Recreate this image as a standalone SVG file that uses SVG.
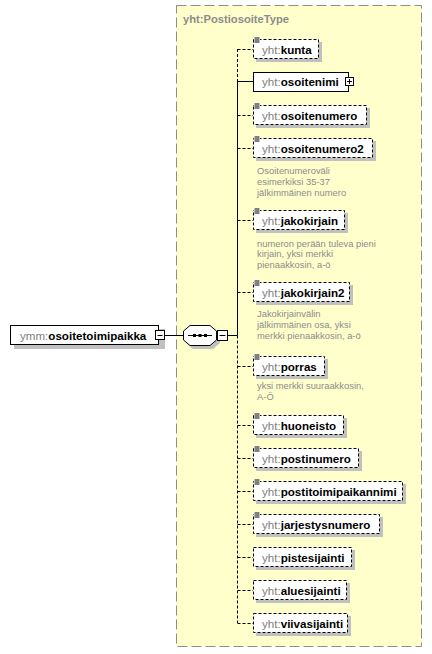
<svg xmlns="http://www.w3.org/2000/svg" xmlns:xlink="http://www.w3.org/1999/xlink" width="432" height="654" viewBox="0 0 432 654">
<style>
.bg{fill:#fff}
.type{fill:#ffffcc;stroke:#8c8c8c;stroke-width:1;stroke-dasharray:10,4}
.title{font-family:"Liberation Sans",Arial,sans-serif;font-size:11.2px;font-weight:bold;fill:#8c8c8c}
.box{fill:#fff;stroke:#000;stroke-width:1;stroke-dasharray:3,2}
.sbox{fill:#fff;stroke:#000;stroke-width:1}
.sh{fill:#c0c0c0}
.lbl{font-family:"Liberation Sans",Arial,sans-serif;font-size:11.6px;font-weight:bold;fill:#000}
.pfx{fill:#808080;font-weight:normal}
.doc{font-family:"Liberation Sans",Arial,sans-serif;font-size:9.4px;fill:#8c8c8c}
.cd{stroke:#000;stroke-width:1;stroke-dasharray:3,2;fill:none}
.cs{stroke:#000;stroke-width:1;fill:none}
.ic{stroke:#000;stroke-width:1}
</style>
<defs>
<g id="eq">
<rect x="1" y="-2" width="6" height="6" fill="#fff"/>
<path class="ic" d="M1.5,-1 H6.5 M1.5,1 H6.5 M1.5,3 H6.5"/>
</g>
</defs>
<rect class="bg" x="0" y="0" width="432" height="654"/>
<g id="type">
<rect class="type" x="176.5" y="5.5" width="245" height="641"/>
<text class="title" x="183" y="23">yht:PostiosoiteType</text>
</g>
<g id="connectors">
<path class="cs" d="M165,335.5 H183"/>
<path class="cs" d="M228,335.5 H237.5"/>
<path class="cd" d="M237.5,49 V81"/>
<path class="cs" d="M237.5,81 V335.5"/>
<path class="cd" d="M237.5,335.5 V623"/>
<path class="cd" d="M237.5,49.5 H253"/>
<path class="cs" d="M237.5,81.5 H253"/>
<path class="cd" d="M237.5,115.5 H253"/>
<path class="cd" d="M237.5,148.5 H253"/>
<path class="cd" d="M237.5,220.5 H253"/>
<path class="cd" d="M237.5,292.5 H253"/>
<path class="cd" d="M237.5,366.5 H253"/>
<path class="cd" d="M237.5,425.5 H253"/>
<path class="cd" d="M237.5,458.5 H253"/>
<path class="cd" d="M237.5,491.5 H253"/>
<path class="cd" d="M237.5,524.5 H253"/>
<path class="cd" d="M237.5,557.5 H253"/>
<path class="cd" d="M237.5,590.5 H253"/>
<path class="cd" d="M237.5,623.5 H253"/>
</g>
<g id="root">
<rect class="sh" x="14" y="329" width="151" height="20"/>
<rect class="sbox" x="10.5" y="325.5" width="148" height="19"/>
<text class="lbl" x="20" y="339.5"><tspan class="pfx">ymm:</tspan>osoitetoimipaikka</text>
<rect class="sbox" x="155.5" y="330.5" width="9" height="9"/>
<path class="ic" d="M157.5,335.5 H162.5"/>
</g>
<g id="sequence">
<path class="sh" d="M186,334 L193,328 L213,328 L220,334 L220,343 L213,349 L193,349 L186,343 Z"/>
<path class="sbox" d="M183.5,331 L190,325.5 L210,325.5 L216.5,331 L216.5,340 L210,345.5 L190,345.5 L183.5,340 Z"/>
<path class="ic" d="M188,335.5 H212"/>
<rect x="193" y="334" width="3" height="3" fill="#000"/>
<rect x="198.5" y="334" width="3" height="3" fill="#000"/>
<rect x="204" y="334" width="3" height="3" fill="#000"/>
<rect class="sbox" x="217.5" y="330.5" width="10" height="10"/>
<path class="ic" d="M219.5,335.5 H225.5"/>
</g>
<g id="kunta">
<rect class="sh" x="256" y="42" width="66" height="20"/>
<rect class="box" x="253.5" y="39.5" width="65" height="19"/>
<use xlink:href="#eq" x="253" y="39"/>
<text class="lbl" x="262" y="53.5"><tspan class="pfx">yht:</tspan>kunta</text>
</g>
<g id="osoitenimi">
<rect class="sbox" x="253.5" y="72.5" width="95" height="19"/>
<text class="lbl" x="262" y="86"><tspan class="pfx">yht:</tspan>osoitenimi</text>
<rect class="sbox" x="345.5" y="77.5" width="8" height="8"/>
<path class="ic" d="M347,81.5 H352 M349.5,79 V84"/>
</g>
<g id="osoitenumero">
<rect class="sh" x="256" y="108" width="114" height="20"/>
<rect class="box" x="253.5" y="105.5" width="113" height="19"/>
<use xlink:href="#eq" x="253" y="105"/>
<text class="lbl" x="262" y="119.5"><tspan class="pfx">yht:</tspan>osoitenumero</text>
</g>
<g id="osoitenumero2">
<rect class="sh" x="256" y="141" width="120" height="20"/>
<rect class="box" x="253.5" y="138.5" width="119" height="19"/>
<use xlink:href="#eq" x="253" y="138"/>
<text class="lbl" x="262" y="152.5"><tspan class="pfx">yht:</tspan>osoitenumero2</text>
<text class="doc" x="257" y="173.5">Osoitenumeroväli</text>
<text class="doc" x="257" y="184.5">esimerkiksi 35-37</text>
<text class="doc" x="257" y="195.5">jälkimmäinen numero</text>
</g>
<g id="jakokirjain">
<rect class="sh" x="256" y="213" width="92" height="20"/>
<rect class="box" x="253.5" y="210.5" width="91" height="19"/>
<use xlink:href="#eq" x="253" y="210"/>
<text class="lbl" x="262" y="224.5"><tspan class="pfx">yht:</tspan>jakokirjain</text>
<text class="doc" x="257" y="246.5">numeron perään tuleva pieni</text>
<text class="doc" x="257" y="257">kirjain, yksi merkki</text>
<text class="doc" x="257" y="267.5">pienaakkosin, a-ö</text>
</g>
<g id="jakokirjain2">
<rect class="sh" x="256" y="285" width="97" height="20"/>
<rect class="box" x="253.5" y="282.5" width="96" height="19"/>
<use xlink:href="#eq" x="253" y="282"/>
<text class="lbl" x="262" y="296.5"><tspan class="pfx">yht:</tspan>jakokirjain2</text>
<text class="doc" x="257" y="316.5">Jakokirjainvälin</text>
<text class="doc" x="257" y="327.5">jälkimmäinen osa, yksi</text>
<text class="doc" x="257" y="338.5">merkki pienaakkosin, a-ö</text>
</g>
<g id="porras">
<rect class="sh" x="256" y="359" width="72" height="20"/>
<rect class="box" x="253.5" y="356.5" width="71" height="19"/>
<use xlink:href="#eq" x="253" y="356"/>
<text class="lbl" x="262" y="370.5"><tspan class="pfx">yht:</tspan>porras</text>
<text class="doc" x="257" y="389">yksi merkki suuraakkosin,</text>
<text class="doc" x="257" y="400">A-Ö</text>
</g>
<g id="huoneisto">
<rect class="sh" x="256" y="418" width="91" height="20"/>
<rect class="box" x="253.5" y="415.5" width="90" height="19"/>
<use xlink:href="#eq" x="253" y="415"/>
<text class="lbl" x="262" y="429.5"><tspan class="pfx">yht:</tspan>huoneisto</text>
</g>
<g id="postinumero">
<rect class="sh" x="256" y="451" width="106" height="20"/>
<rect class="box" x="253.5" y="448.5" width="105" height="19"/>
<use xlink:href="#eq" x="253" y="448"/>
<text class="lbl" x="262" y="462.5"><tspan class="pfx">yht:</tspan>postinumero</text>
</g>
<g id="postitoimipaikannimi">
<rect class="sh" x="256" y="484" width="150" height="20"/>
<rect class="box" x="253.5" y="481.5" width="149" height="19"/>
<use xlink:href="#eq" x="253" y="481"/>
<text class="lbl" x="262" y="495.5"><tspan class="pfx">yht:</tspan>postitoimipaikannimi</text>
</g>
<g id="jarjestysnumero">
<rect class="sh" x="256" y="517" width="127" height="20"/>
<rect class="box" x="253.5" y="514.5" width="126" height="19"/>
<use xlink:href="#eq" x="253" y="514"/>
<text class="lbl" x="262" y="528.5"><tspan class="pfx">yht:</tspan>jarjestysnumero</text>
</g>
<g id="pistesijainti">
<rect class="sh" x="256" y="550" width="99" height="20"/>
<rect class="box" x="253.5" y="547.5" width="98" height="19"/>
<text class="lbl" x="262" y="561.5"><tspan class="pfx">yht:</tspan>pistesijainti</text>
</g>
<g id="aluesijainti">
<rect class="sh" x="256" y="583" width="94" height="20"/>
<rect class="box" x="253.5" y="580.5" width="93" height="19"/>
<text class="lbl" x="262" y="594.5"><tspan class="pfx">yht:</tspan>aluesijainti</text>
</g>
<g id="viivasijainti">
<rect class="sh" x="256" y="616" width="95" height="20"/>
<rect class="box" x="253.5" y="613.5" width="94" height="19"/>
<text class="lbl" x="262" y="627.5"><tspan class="pfx">yht:</tspan>viivasijainti</text>
</g>
</svg>
